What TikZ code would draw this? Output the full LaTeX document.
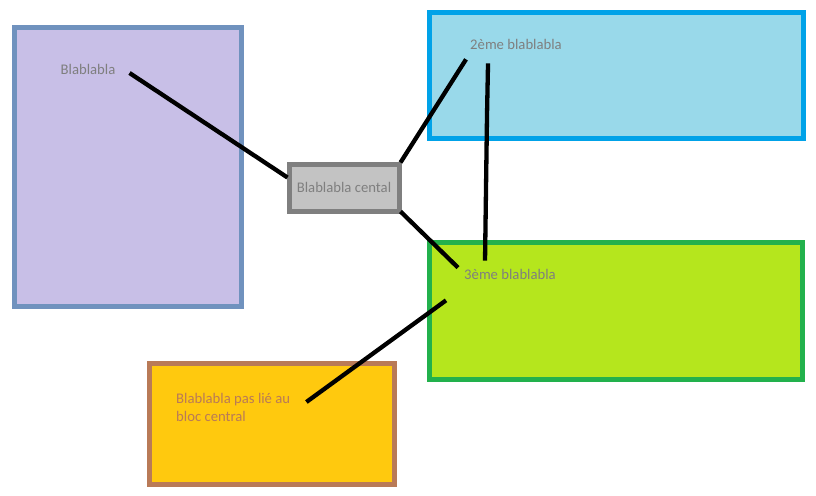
\documentclass[tikz,border=0pt]{standalone}
\usepackage{fontspec}
\setmainfont{Carlito}
\usepackage{xcolor}
\usetikzlibrary{positioning, calc}
\definecolor{lavfill}{HTML}{C8BFE7}
\definecolor{lavdraw}{HTML}{7092BE}
\definecolor{skyfill}{HTML}{99D9EA}
\definecolor{skydraw}{HTML}{00A2E8}
\definecolor{greyfill}{HTML}{C3C3C3}
\definecolor{greydraw}{HTML}{7F7F7F}
\definecolor{limefill}{HTML}{B5E61D}
\definecolor{limedraw}{HTML}{22B14C}
\definecolor{goldfill}{HTML}{FFC90E}
\definecolor{golddraw}{HTML}{B97A57}

\begin{document}
\begin{tikzpicture}[
  x=1pt, y=-1pt,
  bloc/.style={
    line width=5pt, inner sep=0pt
  },
  txt/.style={
    font=\fontsize{14.7}{18.5}\selectfont, text=greydraw, inner sep=2pt
  },
  lien/.style={line width=4.3pt, black}
]
\useasboundingbox (0,0) rectangle (816,495);

% ---- Blocs ----
\node[bloc, draw=lavdraw, fill=lavfill, minimum width=227pt, minimum height=278pt] (gauche) at (127.5,167) {};
\node[bloc, draw=skydraw, fill=skyfill, minimum width=374pt, minimum height=125pt] (haut) at (616,75.5) {};
\node[bloc, draw=limedraw, fill=limefill, minimum width=373pt, minimum height=137pt] (milieu) at (615.5,310.5) {};
\node[bloc, draw=golddraw, fill=goldfill, minimum width=245pt, minimum height=121pt] (bas) at (271.5,423.5) {};

% ---- Bloc central ----
\node[bloc, draw=greydraw, fill=greyfill, minimum width=110pt, minimum height=47pt,
  font=\fontsize{14.7}{17.5}\selectfont, text=greydraw] (central) at (344,187.5) {Blablabla cental};

% ---- Textes ----
\node[txt] (t1) at (88,69) {Blablabla};
\node[txt] (t2) at (516,44) {2ème blablabla};
\node[txt] (t3) at (510,274) {3ème blablabla};
\node[txt, text=golddraw, align=left, anchor=north west] (t4) at (174,391) {Blablabla pas lié au\\bloc central};

% Liens
\draw[lien] ($(t1.east)+(12,4)$) -- ($(central.west)+(1,-10)$);
\draw[lien] ($(central.north east)+(-1,1)$) -- ($(t2.south west)+(-2,8)$);
\draw[lien] ($(central.south east)+(-1,-2)$) -- ($(t3.north west)+(-4,1)$);
\draw[lien] ($(t2.south west)+(20,12)$) -- ($(t2.south west)+(19,63)$) -- ($(t3.north west)+(23,-6)$);
\draw[lien] ($(t3.south west)+(-16,19)$) -- ($(t4.north east)+(14,11)$);

\end{tikzpicture}
\end{document}
